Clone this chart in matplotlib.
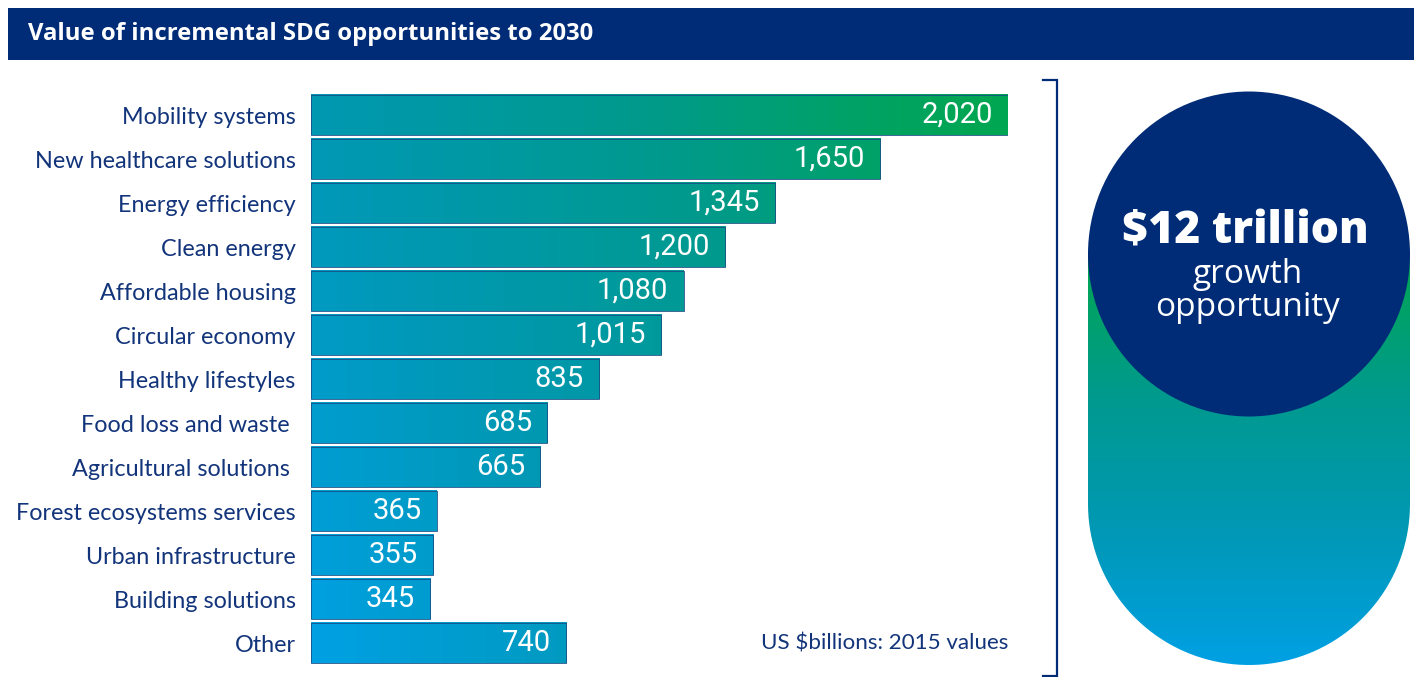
import numpy as np
import matplotlib
matplotlib.use("Agg")
import matplotlib.pyplot as plt
from matplotlib.colors import LinearSegmentedColormap
from matplotlib.patches import Rectangle, Ellipse, Polygon

# data
categories = ["Mobility systems", "New healthcare solutions", "Energy efficiency",
              "Clean energy", "Affordable housing", "Circular economy",
              "Healthy lifestyles", "Food loss and waste ", "Agricultural solutions ",
              "Forest ecosystems services", "Urban infrastructure",
              "Building solutions", "Other"]
values = [2020, 1650, 1345, 1200, 1080, 1015, 835, 685, 665, 365, 355, 345, 740]
title = "Value of incremental SDG opportunities to 2030"
unit_note = "US $billions: 2015 values"
big_text = "$12 trillion"
sub_text = "growth\nopportunity"

NAVY = "#002c77"
LABEL = "#12347a"
grad = LinearSegmentedColormap.from_list(
    "sdg", ["#00a0e3", "#0098b4", "#009a8c", "#00a651"])

W, H = 1424, 677
fig = plt.figure(figsize=(W / 100, H / 100), dpi=100)

# overlay axes in pixel coords for the decorations
bg = fig.add_axes([0, 0, 1, 1])
bg.set_xlim(0, W)
bg.set_ylim(H, 0)
bg.axis("off")

# title bar
bg.add_patch(Rectangle((8, 8), 1406, 52, color=NAVY, lw=0))
bg.text(28, 34, title, color="white", fontsize=17.2, fontweight="bold",
        family="Open Sans", va="center", ha="left")

# bracket
bg.plot([1043, 1057, 1057, 1043], [80, 80, 676, 676], color=NAVY, lw=1.6,
        solid_joinstyle="miter")

# cylinder with vertical gradient
cx, r, top, mid = 1249, 161, 254, 504
ang = np.linspace(np.pi, 2 * np.pi, 80)
pts = [(cx - r, top)] + [(cx + r * np.cos(a), mid - r * np.sin(a)) for a in ang] + [(cx + r, top)]
cyl = Polygon(pts, closed=True, facecolor="none", edgecolor="none")
bg.add_patch(cyl)
vgrad = np.linspace(1, 0, 200).reshape(-1, 1)
im = bg.imshow(vgrad, cmap=grad, aspect="auto",
               extent=[cx - r, cx + r, mid + r, top], zorder=1)
im.set_clip_path(cyl)
bg.add_patch(Ellipse((cx, top), 2 * r, 325, color=NAVY, lw=0, zorder=2))
bg.text(cx - 4, 232, big_text, color="white", fontsize=32, fontweight="heavy",
        family="Open Sans", ha="center", va="center", zorder=3)
bg.text(cx - 1, 291, sub_text, color="white", fontsize=24, family="Open Sans",
        ha="center", va="center", linespacing=0.98, zorder=3)

# bar axes
x0, x1 = 311, 1008
ax = fig.add_axes([x0 / W, 1 - 665 / H, (x1 - x0) / W, 572 / H])
ax.patch.set_alpha(0)

ypos = np.arange(len(values))
bars = ax.barh(ypos, values, height=0.91, color="none",
               edgecolor="#1a4f86", linewidth=0.6, zorder=3)

# fill each bar with a slice of one big diagonal gradient
xmax = max(values)
for i, b in enumerate(bars):
    bx, by, bw, bh = b.get_x(), b.get_y(), b.get_width(), b.get_height()
    xs = np.linspace(bx, bx + bw, 200) / xmax
    t = 0.67 * xs + 0.35 * (1 - i / (len(values) - 1))
    ax.imshow(grad(np.clip(t, 0, 1)).reshape(1, -1, 4), aspect="auto",
              extent=[bx, bx + bw, by + bh, by], zorder=2)
    ax.annotate(f"{values[i]:,}", (bx + bw, i), xytext=(-11, 0),
                textcoords="offset points", ha="right", va="center",
                color="white", fontsize=21, family="Roboto", zorder=4)

ax.set_xlim(0, xmax)
ax.set_ylim(len(values) - 0.5, -0.5)
ax.set_yticks(ypos)
ax.set_yticklabels(categories, fontsize=16.8, color=LABEL, family="Lato")
ax.tick_params(axis="y", length=0, pad=11)
ax.set_xticks([])
for s in ax.spines.values():
    s.set_visible(False)

ax.text(1.0, 12, unit_note, transform=ax.get_yaxis_transform(), ha="right",
        va="center", color=LABEL, fontsize=16.1, family="Lato")

fig.savefig("out.png", dpi=100)
